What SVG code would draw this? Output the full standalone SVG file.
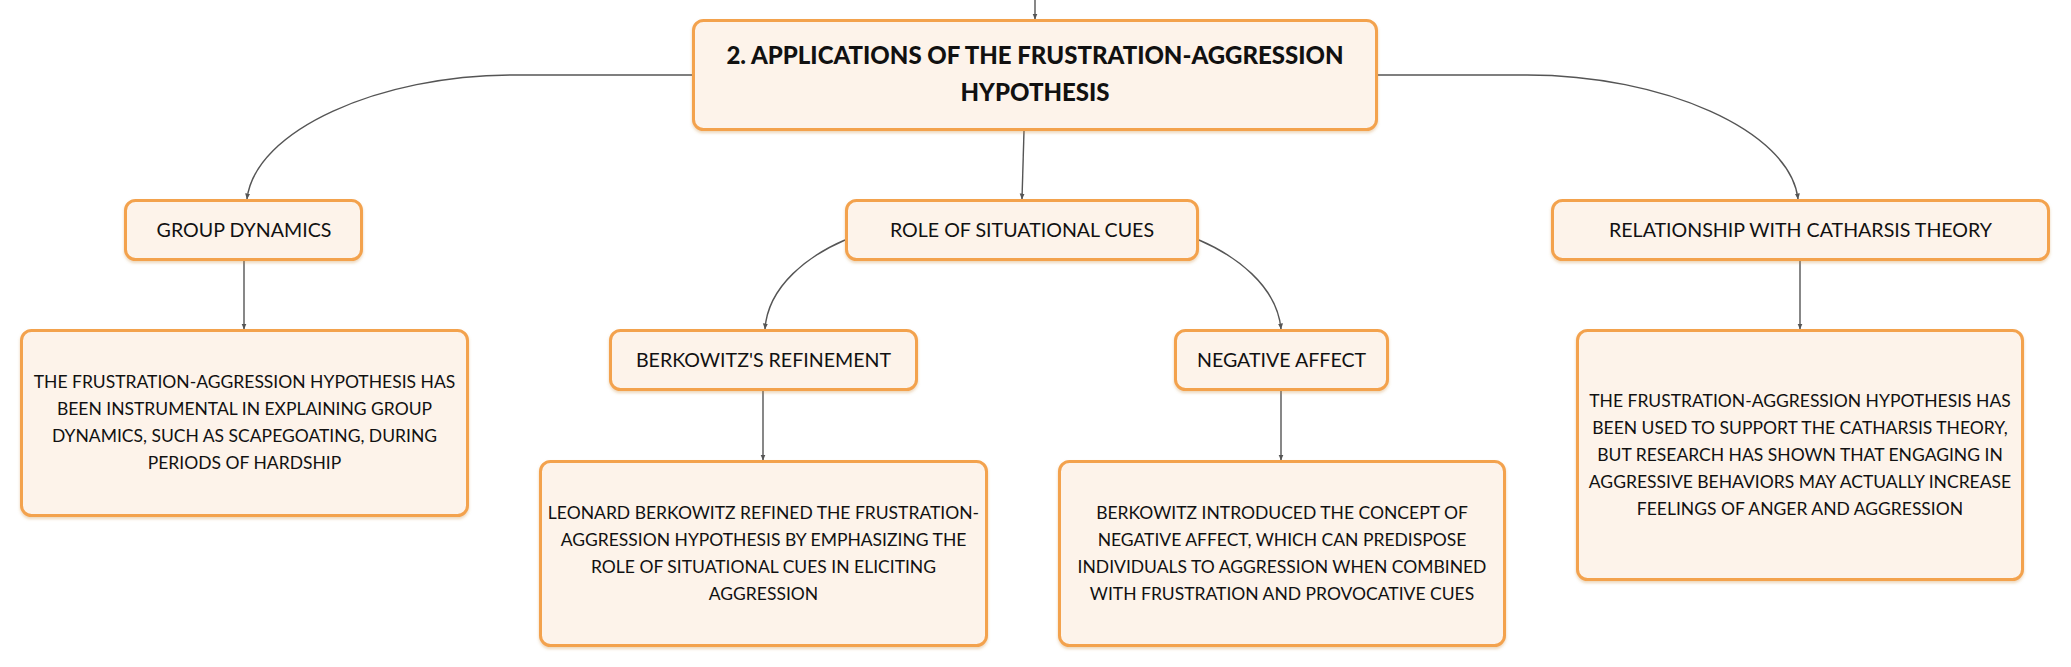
<svg xmlns="http://www.w3.org/2000/svg" width="2071" height="667" viewBox="0 0 2071 667">
<style>
.box{fill:#FDF3EA;stroke:#F3A24E;stroke-width:3}
.t{font-family:Lato,"Open Sans","Liberation Sans",sans-serif;fill:#111;text-anchor:middle}
.lbl{font-size:19.6px}
.desc{font-size:17.5px}
.root{font-size:24px;font-weight:900}
.c{fill:none;stroke:#555;stroke-width:1.4}
</style>
<defs>
<marker id="ah" viewBox="0 0 6 6" refX="5.5" refY="3" markerWidth="6" markerHeight="6" orient="auto" markerUnits="userSpaceOnUse">
<path d="M0,0.5 L6,3 L0,5.5 z" fill="#555"/>
</marker>
<filter id="sh" x="-5%" y="-5%" width="110%" height="120%">
<feDropShadow dx="0" dy="2" stdDeviation="1.5" flood-color="#C98A3E" flood-opacity="0.35"/>
</filter>
</defs>
<g id="connectors">
<path class="c" d="M1035,0 V19" marker-end="url(#ah)"/>
<path class="c" d="M692,75 H513 C380,75 255,130 247,199" marker-end="url(#ah)"/>
<path class="c" d="M1024,131 L1022,199" marker-end="url(#ah)"/>
<path class="c" d="M1378,75 H1527 C1662,75 1790,130 1798,199" marker-end="url(#ah)"/>
<path class="c" d="M244,261 V329" marker-end="url(#ah)"/>
<path class="c" d="M845,240 C810,255 768,285 765,329" marker-end="url(#ah)"/>
<path class="c" d="M1199,240 C1234,255 1277,285 1281,329" marker-end="url(#ah)"/>
<path class="c" d="M763,391 V460" marker-end="url(#ah)"/>
<path class="c" d="M1281,391 V460" marker-end="url(#ah)"/>
<path class="c" d="M1800,261 V329" marker-end="url(#ah)"/>
</g>
<g id="root">
<rect class="box" filter="url(#sh)" x="693.5" y="20.5" width="683" height="109" rx="10"/>
<text class="t root" x="1035" y="64">2. APPLICATIONS OF THE FRUSTRATION-AGGRESSION</text>
<text class="t root" x="1035" y="101">HYPOTHESIS</text>
</g>
<g id="group-dynamics">
<rect class="box" filter="url(#sh)" x="125.5" y="200.5" width="236" height="59" rx="10"/>
<text class="t lbl" x="244" y="237">GROUP DYNAMICS</text>
</g>
<g id="role-of-situational-cues">
<rect class="box" filter="url(#sh)" x="846.5" y="200.5" width="351" height="59" rx="10"/>
<text class="t lbl" x="1022" y="237">ROLE OF SITUATIONAL CUES</text>
</g>
<g id="relationship-catharsis">
<rect class="box" filter="url(#sh)" x="1552.5" y="200.5" width="496" height="59" rx="10"/>
<text class="t lbl" x="1800.5" y="237">RELATIONSHIP WITH CATHARSIS THEORY</text>
</g>
<g id="group-dynamics-desc">
<rect class="box" filter="url(#sh)" x="21.5" y="330.5" width="446" height="185" rx="10"/>
<text class="t desc" x="244.5" y="388">THE FRUSTRATION-AGGRESSION HYPOTHESIS HAS</text>
<text class="t desc" x="244.5" y="415">BEEN INSTRUMENTAL IN EXPLAINING GROUP</text>
<text class="t desc" x="244.5" y="442">DYNAMICS, SUCH AS SCAPEGOATING, DURING</text>
<text class="t desc" x="244.5" y="469">PERIODS OF HARDSHIP</text>
</g>
<g id="berkowitz-refinement">
<rect class="box" filter="url(#sh)" x="610.5" y="330.5" width="306" height="59" rx="10"/>
<text class="t lbl" x="763.5" y="367">BERKOWITZ'S REFINEMENT</text>
</g>
<g id="negative-affect">
<rect class="box" filter="url(#sh)" x="1175.5" y="330.5" width="212" height="59" rx="10"/>
<text class="t lbl" x="1281.5" y="367">NEGATIVE AFFECT</text>
</g>
<g id="catharsis-desc">
<rect class="box" filter="url(#sh)" x="1577.5" y="330.5" width="445" height="249" rx="10"/>
<text class="t desc" x="1800" y="407">THE FRUSTRATION-AGGRESSION HYPOTHESIS HAS</text>
<text class="t desc" x="1800" y="434">BEEN USED TO SUPPORT THE CATHARSIS THEORY,</text>
<text class="t desc" x="1800" y="461">BUT RESEARCH HAS SHOWN THAT ENGAGING IN</text>
<text class="t desc" x="1800" y="488">AGGRESSIVE BEHAVIORS MAY ACTUALLY INCREASE</text>
<text class="t desc" x="1800" y="515">FEELINGS OF ANGER AND AGGRESSION</text>
</g>
<g id="berkowitz-refinement-desc">
<rect class="box" filter="url(#sh)" x="540.5" y="461.5" width="446" height="184" rx="10"/>
<text class="t desc" x="763.5" y="519">LEONARD BERKOWITZ REFINED THE FRUSTRATION-</text>
<text class="t desc" x="763.5" y="546">AGGRESSION HYPOTHESIS BY EMPHASIZING THE</text>
<text class="t desc" x="763.5" y="573">ROLE OF SITUATIONAL CUES IN ELICITING</text>
<text class="t desc" x="763.5" y="600">AGGRESSION</text>
</g>
<g id="negative-affect-desc">
<rect class="box" filter="url(#sh)" x="1059.5" y="461.5" width="445" height="184" rx="10"/>
<text class="t desc" x="1282" y="519">BERKOWITZ INTRODUCED THE CONCEPT OF</text>
<text class="t desc" x="1282" y="546">NEGATIVE AFFECT, WHICH CAN PREDISPOSE</text>
<text class="t desc" x="1282" y="573">INDIVIDUALS TO AGGRESSION WHEN COMBINED</text>
<text class="t desc" x="1282" y="600">WITH FRUSTRATION AND PROVOCATIVE CUES</text>
</g>
</svg>
